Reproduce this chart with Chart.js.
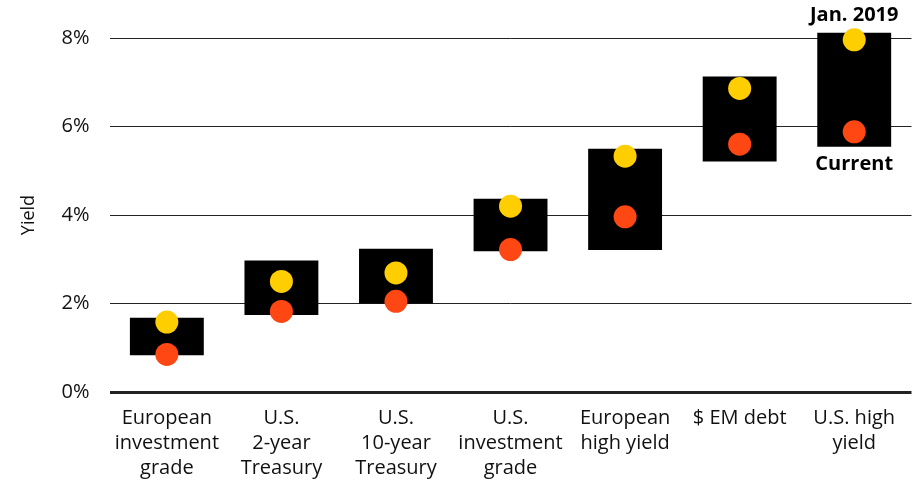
<!DOCTYPE html>
<html>
<head>
<meta charset="utf-8">
<script src="https://cdn.jsdelivr.net/npm/chart.js@4"></script>
<style>
html,body{margin:0;padding:0;background:#fff;}
#wrap{width:923px;height:483px;}
</style>
</head>
<body>
<div id="wrap"><canvas id="c"></canvas></div>
<script>
const categories = [
  ["European","investment","grade"],
  ["U.S.","2-year","Treasury"],
  ["U.S.","10-year","Treasury"],
  ["U.S.","investment","grade"],
  ["European","high yield"],
  ["$ EM debt"],
  ["U.S. high","yield"]
];
const rangeLow  = [0.83, 1.74, 2.00, 3.18, 3.21, 5.21, 5.54];
const rangeHigh = [1.68, 2.97, 3.24, 4.37, 5.50, 7.13, 8.12];
const jan2019   = [1.58, 2.50, 2.69, 4.20, 5.33, 6.86, 7.96];
const current   = [0.85, 1.82, 2.05, 3.22, 3.96, 5.60, 5.88];
const yTicks    = [0, 2, 4, 6, 8];
const labelTop = "Jan. 2019";
const labelBottom = "Current";

const FONT = "'Open Sans', sans-serif";

const annotate = {
  id: 'annotate',
  afterDatasetsDraw(chart) {
    const {ctx, scales: {x, y}} = chart;
    const i = categories.length - 1;
    const cx = x.getPixelForValue(i);
    ctx.save();
    ctx.fillStyle = '#000';
    ctx.font = "bold 20px " + FONT;
    ctx.textAlign = 'center';
    ctx.textBaseline = 'middle';
    ctx.fillText(labelTop, cx, y.getPixelForValue(rangeHigh[i]) - 17);
    ctx.fillText(labelBottom, cx, y.getPixelForValue(rangeLow[i]) + 17);
    ctx.restore();
  }
};

new Chart(document.getElementById('c'), {
  type: 'bar',
  data: {
    labels: categories,
    datasets: [
      {
        type: 'line',
        label: 'Jan. 2019',
        data: jan2019,
        showLine: false,
        pointRadius: 11.5,
        pointHoverRadius: 11.5,
        pointBackgroundColor: '#FFCE00',
        pointBorderWidth: 0,
        borderColor: '#FFCE00',
        clip: false,
        order: 1
      },
      {
        type: 'line',
        label: 'Current',
        data: current,
        showLine: false,
        pointRadius: 11.5,
        pointHoverRadius: 11.5,
        pointBackgroundColor: '#FF4713',
        pointBorderWidth: 0,
        borderColor: '#FF4713',
        clip: false,
        order: 2
      },
      {
        type: 'bar',
        label: 'Range',
        data: rangeLow.map((v, i) => [v, rangeHigh[i]]),
        backgroundColor: '#000',
        borderWidth: 0,
        borderSkipped: false,
        categoryPercentage: 1,
        barPercentage: 0.645,
        clip: false,
        order: 3
      }
    ]
  },
  options: {
    responsive: true,
    maintainAspectRatio: false,
    animation: false,
    layout: { padding: { top: 38, right: 10, bottom: -12, left: 18 } },
    plugins: { legend: { display: false }, tooltip: { enabled: false } },
    scales: {
      x: {
        grid: { display: false, drawTicks: false },
        border: { display: false },
        ticks: {
          color: '#111',
          font: { family: FONT, size: 20, lineHeight: 1.25 },
          padding: 14,
          maxRotation: 0,
          autoSkip: false
        }
      },
      y: {
        min: 0,
        max: 8,
        afterBuildTicks(axis) { axis.ticks = yTicks.map(v => ({ value: v })); },
        grid: {
          drawTicks: false,
          color: '#222',
          lineWidth: (c) => (c.tick && c.tick.value === 0 ? 3 : 1)
        },
        border: { display: false },
        ticks: {
          color: '#111',
          font: { family: FONT, size: 20 },
          padding: 20,
          callback: (v) => v + '%'
        },
        title: {
          display: true,
          text: 'Yield',
          color: '#111',
          font: { family: FONT, size: 18 },
          padding: { top: 0, bottom: 2 }
        }
      }
    }
  },
  plugins: [annotate]
});
</script>
</body>
</html>
